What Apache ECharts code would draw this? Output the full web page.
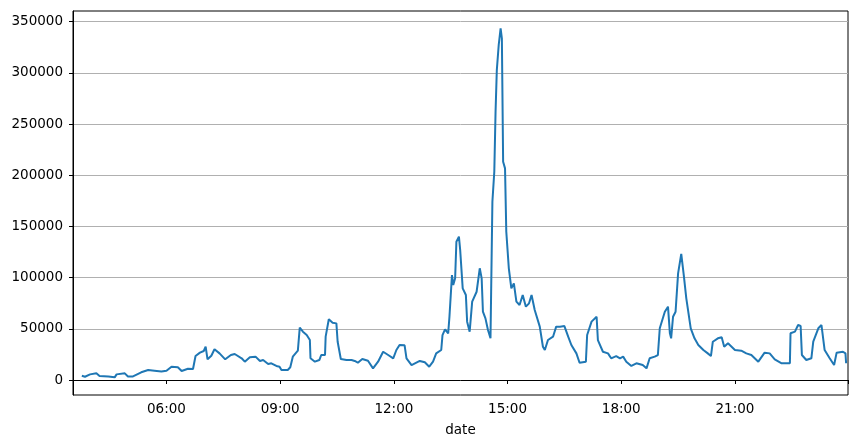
<!DOCTYPE html>
<html>
<head>
<meta charset="utf-8">
<script src="https://cdn.jsdelivr.net/npm/echarts@6/dist/echarts.min.js"></script>
<style>
html,body{margin:0;padding:0;background:#fff;}
#chart{width:857px;height:446px;}
</style>
</head>
<body>
<div id="chart"></div>
<script>
// Time of day (HH:MM) and value
const times = [
"03:46","03:51","03:59","04:09","04:14","04:28","04:38","04:41","04:54","04:59","05:07","05:20","05:31","05:41","05:52","06:00","06:08","06:18","06:24","06:34","06:42","06:45","06:46","06:53","06:59","07:02","07:05","07:11","07:16","07:24","07:33","07:42","07:48","07:59",
"08:04","08:12","08:21","08:28","08:33","08:41","08:46","08:54","08:59","09:02","09:12","09:16","09:20","09:28","09:31","09:36","09:42","09:47","09:48","09:55","10:02","10:05","10:11","10:12","10:17","10:23","10:29","10:31","10:36","10:45","10:53","10:58","11:03","11:10","11:19","11:27","11:35","11:43","11:51","11:59","12:04","12:09","12:17","12:20",
"12:28","12:41","12:49","12:56","13:02","13:07","13:15","13:17","13:21","13:26","13:28","13:32","13:34","13:37","13:39","13:43","13:45","13:49","13:54","13:56","14:00","14:04","14:11","14:16","14:19","14:21","14:25","14:29","14:33","14:36","14:39","14:41","14:43","14:46","14:49","14:51","14:53","14:56","14:58","15:02","15:06","15:10","15:14","15:19","15:24","15:29","15:34","15:38","15:43","15:51","15:56","15:59","16:04","16:12","16:17","16:23",
"16:30","16:36","16:41","16:49","16:54","17:04","17:06","17:13","17:21","17:23","17:31","17:39","17:44","17:52","17:58","18:03","18:08","18:16","18:24","18:34","18:40","18:45","18:53","18:58","19:01","19:09","19:14","19:17","19:19","19:22","19:26","19:30","19:35","19:39","19:43","19:50","19:56","20:02","20:10","20:17","20:22","20:25","20:33",
"20:39","20:43","20:49","21:00","21:10","21:18","21:26","21:37","21:47","21:55","22:03","22:14","22:27","22:28","22:35","22:40","22:44","22:46","22:53","23:01","23:04","23:12","23:17","23:22","23:30","23:37","23:41","23:51","23:55","23:56"
];
const values = [
4200,3200,5500,6500,3900,3500,2600,5500,6500,3500,3500,7500,9700,9000,8200,9000,13000,12400,8800,11000,10700,10500,23400,26700,28300,32500,20200,23700,30000,26000,20200,24400,25400,21200,
17900,22200,22800,18600,19500,15600,16300,13700,13000,9800,9800,12400,22800,28600,51100,47200,44000,39000,21200,17900,19500,24400,24400,42300,59300,56000,55300,37400,20500,19500,19500,18600,16900,20500,18800,11400,17900,27600,24400,21200,29300,34200,33900,21200,
14600,18600,17300,13000,17900,26000,29300,43900,49500,45600,61800,102500,92800,99300,135100,140000,127000,89500,83000,57000,47200,76500,86200,109100,99300,66700,60200,48800,40700,174100,203400,262000,302700,327200,343400,333700,213200,206700,144800,109100,89500,94400,76500,73200,83000,71600,74900,83000,68400,52100,32500,29300,39100,42300,52100,52100,
52700,42300,34200,26000,16900,17900,43900,57000,61800,39000,27600,26000,21200,23400,21200,22800,17900,13700,16300,14600,11400,21200,22800,24400,50500,66700,71600,45600,40700,61800,66700,104200,123100,102500,79800,50500,40700,34200,29300,26000,23400,37400,40700,
41700,32500,35800,29300,28600,26000,24400,17900,26700,26000,20200,16300,16300,45600,47200,53700,52700,24400,19500,21200,37400,50500,53700,29300,21200,14600,26700,27600,26000,16300
];
const xLabelTimes = ["06:00","09:00","12:00","15:00","18:00","21:00"];
const xStart = "03:32", xEnd = "23:59";
const yTicks = [0,50000,100000,150000,200000,250000,300000,350000];

function toMin(s){const p=s.split(":");return (+p[0])*60+(+p[1]);}
function fmt(m){const h=Math.floor(m/60),mm=Math.round(m%60);return String(h).padStart(2,"0")+":"+String(mm).padStart(2,"0");}
const data = times.map((t,i)=>[toMin(t), values[i]]);
const xLab = xLabelTimes.map(toMin);
const xTickVals = [toMin(xStart)].concat(xLab,[toMin(xEnd)]);

const font = "DejaVu Sans";
const chart = echarts.init(document.getElementById("chart"), null, {renderer:"canvas"});
chart.setOption({
  animation:false,
  backgroundColor:"#fff",
  grid:{left:73,right:9,top:11,bottom:51,show:true,borderColor:"#000",borderWidth:1,backgroundColor:"transparent"},
  xAxis:{
    type:"value",min:toMin(xStart),max:toMin(xEnd),
    name:"date",nameLocation:"middle",nameGap:28,
    nameTextStyle:{fontFamily:font,fontSize:13.5,color:"#000"},
    axisLine:{show:true,lineStyle:{color:"#000",width:1}},
    axisTick:{show:true,customValues:xTickVals,length:4,lineStyle:{color:"#000"}},
    axisLabel:{customValues:xLab,formatter:v=>fmt(v),fontFamily:font,fontSize:13.5,color:"#000",margin:7},
    splitLine:{show:false}
  },
  yAxis:{
    type:"value",min:-14650,max:360400,
    axisLine:{show:true,lineStyle:{color:"#000",width:1}},
    axisTick:{show:true,customValues:yTicks,length:4,lineStyle:{color:"#000"}},
    axisLabel:{customValues:yTicks,formatter:v=>String(v),fontFamily:font,fontSize:13.5,color:"#000",margin:10},
    splitLine:{show:true,lineStyle:{color:"#b0b0b0",width:1}}
  },
  series:[{
    type:"line",data:data,showSymbol:false,symbol:"none",
    lineStyle:{color:"#1f77b4",width:2},
    itemStyle:{color:"#1f77b4"}
  }]
});
</script>
</body>
</html>
